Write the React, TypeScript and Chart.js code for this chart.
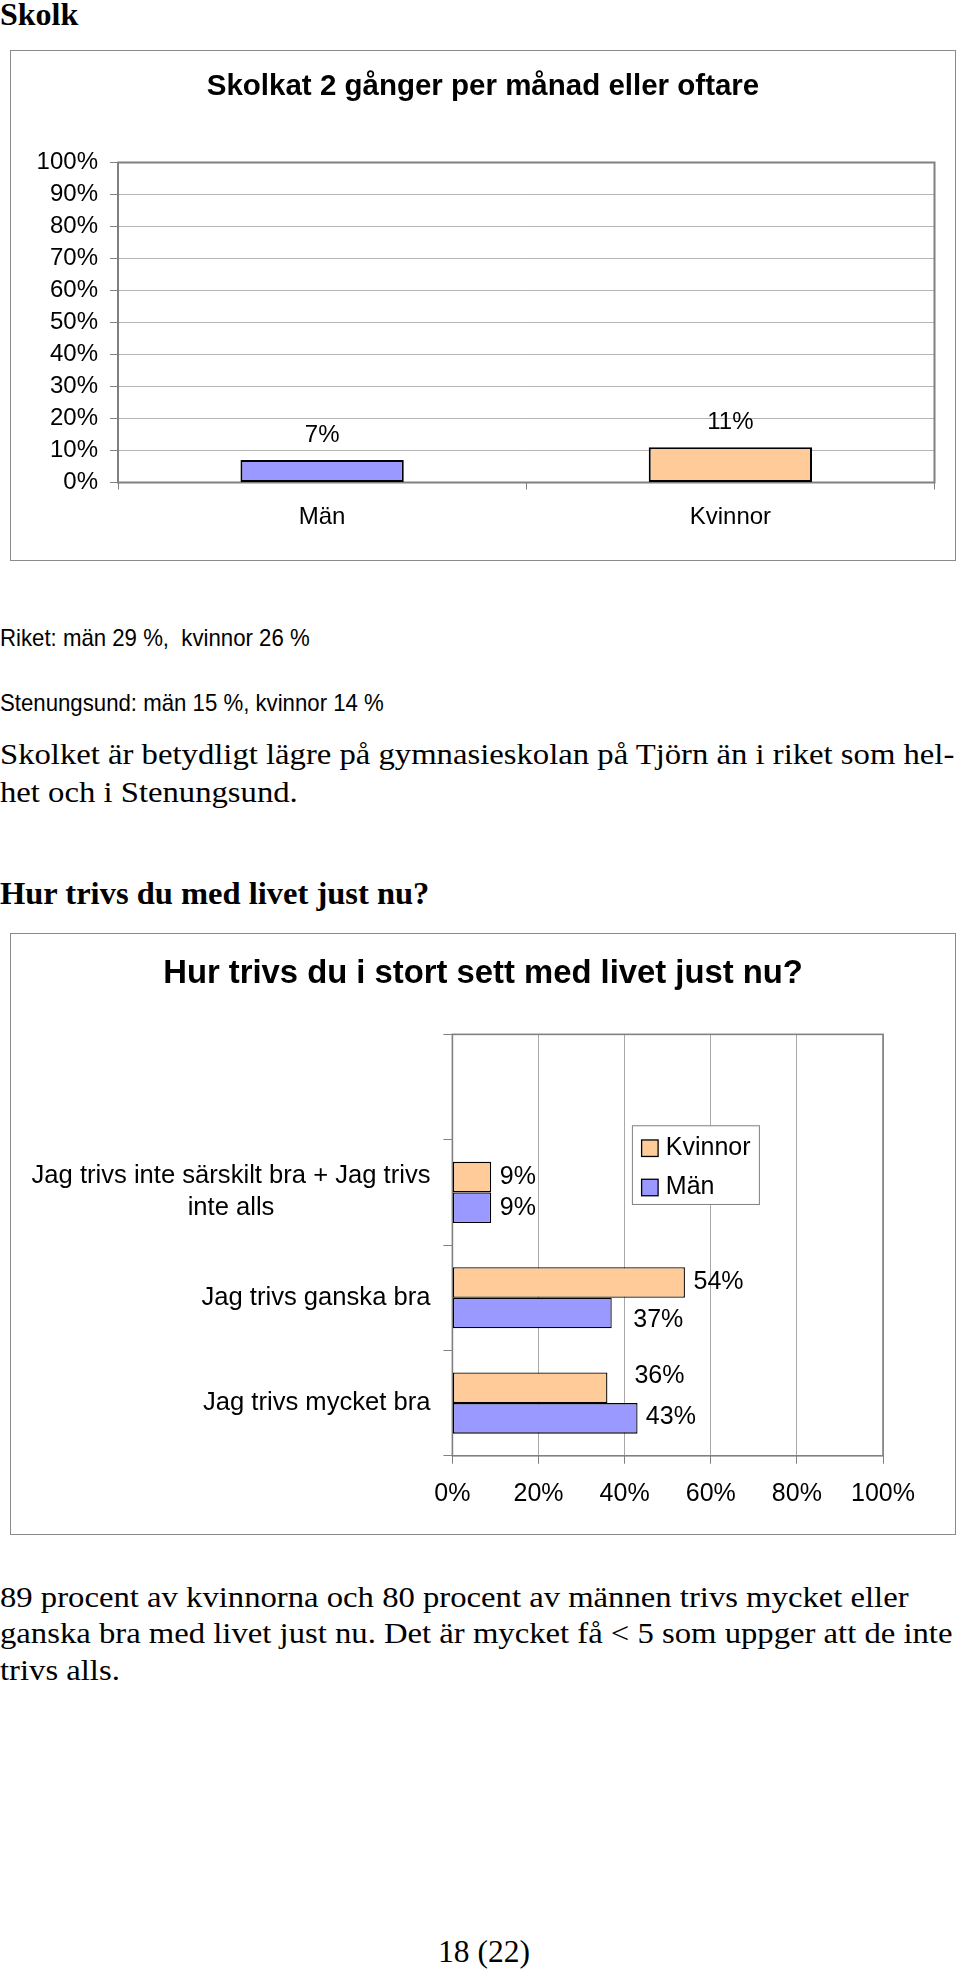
import React, { useEffect, useRef } from "react";
import { Chart, registerables } from "chart.js";

Chart.register(...registerables);

const SANS = "'Liberation Sans', Arial, Helvetica, sans-serif";
const SERIF = "'Liberation Serif', 'Times New Roman', serif";

// ---- Chart 1: Skolkat 2 gånger per månad eller oftare ----
const skolkCategories = ["Män", "Kvinnor"];
const skolkValues = [7, 11];
const skolkColors = ["#9999FF", "#FFCC99"];
const skolkTickStep = 10;

// ---- Chart 2: Hur trivs du i stort sett med livet just nu? ----
const trivsCategories: (string | string[])[] = [
  "",
  ["Jag trivs inte särskilt bra + Jag trivs", "inte alls"],
  "Jag trivs ganska bra",
  "Jag trivs mycket bra",
];
const trivsSeries = ["Kvinnor", "Män"];
const trivsKvinnor = [null, 9, 54, 36];
const trivsMan = [null, 9, 37, 43];
const trivsColors = ["#FFCC99", "#9999FF"];
const trivsTickStep = 20;

// label offsets (style only): [dx, dy] from bar end / bar centre
const trivsLabelOffsets = [
  [null, [8.7, 0], [8.6, 0], [27, -12.2]],
  [null, [8.7, 0], [21.5, 6.8], [8.3, -1]],
];

const pct = (v: any) => v + "%";

const plotFrame = (color: string, width: number) => ({
  id: "plotFrame",
  beforeDatasetsDraw(chart: any) {
    const { ctx, chartArea: a } = chart;
    ctx.save();
    ctx.strokeStyle = color;
    ctx.lineWidth = width;
    ctx.strokeRect(a.left, a.top, a.right - a.left, a.bottom - a.top);
    ctx.restore();
  },
});

const padAxis = (w: number) => ({
  type: "linear" as const,
  position: "right" as const,
  display: true,
  grid: { display: false },
  ticks: { display: false },
  border: { display: false },
  afterFit(s: any) {
    s.width = w;
  },
});

function TextLine(props: {
  text: string;
  baseline: number;
  size: number;
  family: string;
  weight?: string;
  left?: number;
  scaleX?: number;
  asc: number;
  width?: number;
  align?: "left" | "center";
}) {
  const { text, baseline, size, family, weight = "normal", left = 0, scaleX = 1, asc, width, align = "left" } = props;
  return (
    <div
      style={{
        position: "absolute",
        left,
        top: baseline - asc * size,
        width,
        textAlign: align,
        fontFamily: family,
        fontSize: size,
        fontWeight: weight as any,
        lineHeight: `${size}px`,
        whiteSpace: "pre",
        color: "#000",
        transform: `scaleX(${scaleX})`,
        transformOrigin: "left top",
      }}
    >
      {text}
    </div>
  );
}

const SERIF_ASC = 0.8375;
const SANS_ASC = 0.8465;

export default function App() {
  const c1 = useRef<HTMLCanvasElement>(null);
  const c2 = useRef<HTMLCanvasElement>(null);

  useEffect(() => {
    const valueLabels1 = {
      id: "valueLabels1",
      afterDatasetsDraw(chart: any) {
        const ctx = chart.ctx;
        ctx.save();
        ctx.font = `24px ${SANS}`;
        ctx.fillStyle = "#000";
        ctx.textAlign = "center";
        ctx.textBaseline = "alphabetic";
        chart.data.datasets.forEach((ds: any, di: number) => {
          chart.getDatasetMeta(di).data.forEach((el: any, i: number) => {
            const v = ds.data[i];
            if (v == null) return;
            ctx.fillText(pct(v), el.x, el.y - 18);
          });
        });
        ctx.restore();
      },
    };

    const ch1 = new Chart(c1.current as HTMLCanvasElement, {
      type: "bar",
      data: {
        labels: skolkCategories,
        datasets: [
          {
            data: skolkValues,
            backgroundColor: skolkColors,
            borderColor: "#000",
            borderWidth: 2,
            borderSkipped: false,
            barPercentage: 0.5,
            categoryPercentage: 0.8,
            xAxisID: "x",
            yAxisID: "y",
          },
        ],
      },
      options: {
        responsive: false,
        animation: false,
        devicePixelRatio: 1,
        layout: { padding: 0 },
        plugins: {
          legend: { display: false },
          tooltip: { enabled: false },
          title: {
            display: true,
            text: "Skolkat 2 gånger per månad eller oftare",
            color: "#000",
            font: { family: SANS, size: 29.5, weight: "bold", lineHeight: 1.2 },
            padding: { top: 17.8, bottom: 58.3 },
          },
        },
        scales: {
          x: {
            type: "category",
            offset: true,
            grid: {
              offset: true,
              drawOnChartArea: false,
              drawTicks: true,
              tickLength: 7,
              tickColor: "#808080",
              tickWidth: 1,
            },
            border: { display: false },
            ticks: {
              color: "#000",
              font: { family: SANS, size: 24 },
              padding: 13.5,
              maxRotation: 0,
              autoSkip: false,
            },
            afterFit(s: any) {
              s.height = 77.5;
            },
          },
          y: {
            type: "linear",
            min: 0,
            max: 100,
            ticks: {
              stepSize: skolkTickStep,
              callback: pct,
              color: "#000",
              font: { family: SANS, size: 24 },
              padding: 12,
            },
            grid: {
              color: "#b4b4b4",
              lineWidth: 1,
              drawTicks: true,
              tickLength: 8,
              tickColor: "#808080",
            },
            border: { display: false },
            afterFit(s: any) {
              s.width = 107;
            },
          },
          yPad: padAxis(20.5),
        },
      } as any,
      plugins: [plotFrame("#808080", 2), valueLabels1],
    });

    const valueLabels2 = {
      id: "valueLabels2",
      afterDatasetsDraw(chart: any) {
        const ctx = chart.ctx;
        ctx.save();
        ctx.font = `25px ${SANS}`;
        ctx.fillStyle = "#000";
        ctx.textAlign = "left";
        ctx.textBaseline = "middle";
        chart.data.datasets.forEach((ds: any, di: number) => {
          chart.getDatasetMeta(di).data.forEach((el: any, i: number) => {
            const v = ds.data[i];
            if (v == null) return;
            const off = (trivsLabelOffsets[di][i] as number[]) || [8, 0];
            ctx.fillText(pct(v), el.x + off[0], el.y + off[1]);
          });
        });
        ctx.restore();
      },
    };

    const catLabels = {
      id: "catLabels",
      afterDraw(chart: any) {
        const s = chart.scales.y;
        const ctx = chart.ctx;
        ctx.save();
        ctx.font = `25.6px ${SANS}`;
        ctx.fillStyle = "#000";
        ctx.textAlign = "center";
        ctx.textBaseline = "middle";
        const right = s.right - 9 - 12.9;
        (chart.data.labels as any[]).forEach((lab, i) => {
          const lines: string[] = Array.isArray(lab) ? lab : [lab];
          if (!lines.join("")) return;
          const w = Math.max(...lines.map((l) => ctx.measureText(l).width));
          const cx = right - w / 2;
          const yc = s.getPixelForTick(i);
          lines.forEach((l, j) => ctx.fillText(l, cx, yc + (j - (lines.length - 1) / 2) * 32));
        });
        ctx.restore();
      },
    };

    const innerLegend = {
      id: "innerLegend",
      afterDatasetsDraw(chart: any) {
        const a = chart.chartArea;
        const ctx = chart.ctx;
        const bx = a.left + 179.5;
        const by = a.top + 90.9;
        const bw = 128;
        const bh = 79.7;
        ctx.save();
        ctx.fillStyle = "#fff";
        ctx.fillRect(bx, by, bw, bh);
        ctx.strokeStyle = "#808080";
        ctx.lineWidth = 1;
        ctx.strokeRect(bx + 0.5, by + 0.5, bw - 1, bh - 1);
        chart.data.datasets.forEach((ds: any, i: number) => {
          const sy = by + 14.7 + i * 39.3;
          ctx.fillStyle = ds.backgroundColor;
          ctx.fillRect(bx + 9.7, sy, 16.5, 16.5);
          ctx.strokeStyle = "#000";
          ctx.lineWidth = 1.3;
          ctx.strokeRect(bx + 9.7, sy, 16.5, 16.5);
          ctx.fillStyle = "#000";
          ctx.font = `25px ${SANS}`;
          ctx.textAlign = "left";
          ctx.textBaseline = "alphabetic";
          ctx.fillText(ds.label, bx + 33.9, by + 29.7 + i * 39.3);
        });
        ctx.restore();
      },
    };

    const ch2 = new Chart(c2.current as HTMLCanvasElement, {
      type: "bar",
      data: {
        labels: trivsCategories as any,
        datasets: [
          {
            label: trivsSeries[0],
            data: trivsKvinnor as any,
            backgroundColor: trivsColors[0],
            borderColor: "#000",
            borderWidth: 1.3,
            borderSkipped: false,
            barPercentage: 1,
            categoryPercentage: 0.58,
            xAxisID: "x",
            yAxisID: "y",
          },
          {
            label: trivsSeries[1],
            data: trivsMan as any,
            backgroundColor: trivsColors[1],
            borderColor: "#000",
            borderWidth: 1.3,
            borderSkipped: false,
            barPercentage: 1,
            categoryPercentage: 0.58,
            xAxisID: "x",
            yAxisID: "y",
          },
        ],
      },
      options: {
        indexAxis: "y",
        responsive: false,
        animation: false,
        devicePixelRatio: 1,
        layout: { padding: 0 },
        plugins: {
          legend: { display: false },
          tooltip: { enabled: false },
          title: {
            display: true,
            text: "Hur trivs du i stort sett med livet just nu?",
            color: "#000",
            font: { family: SANS, size: 32.8, weight: "bold", lineHeight: 1.2 },
            padding: { top: 19.9, bottom: 41.1 },
          },
        },
        scales: {
          x: {
            type: "linear",
            position: "bottom",
            min: 0,
            max: 100,
            ticks: {
              stepSize: trivsTickStep,
              callback: pct,
              color: "#000",
              font: { family: SANS, size: 25 },
              padding: 15.6,
            },
            grid: {
              color: "#a8a8a8",
              lineWidth: 1,
              drawTicks: true,
              tickLength: 8,
              tickColor: "#808080",
            },
            border: { display: false },
            afterFit(s: any) {
              s.height = 78.2;
            },
          },
          y: {
            type: "category",
            position: "left",
            offset: true,
            grid: {
              offset: true,
              drawOnChartArea: false,
              drawTicks: true,
              tickLength: 9,
              tickColor: "#808080",
            },
            ticks: { display: false },
            border: { display: false },
            afterFit(s: any) {
              s.width = 441.4;
            },
          },
          yPad: padAxis(72),
        },
      } as any,
      plugins: [plotFrame("#808080", 1.6), valueLabels2, catLabels, innerLegend],
    });

    return () => {
      ch1.destroy();
      ch2.destroy();
    };
  }, []);

  const BODY = 29.5;
  const BODY_SX = 1.108;

  return (
    <div
      style={{
        position: "absolute",
        left: 0,
        top: 0,
        width: 960,
        height: 1972,
        background: "#fff",
        overflow: "hidden",
      }}
    >
      <TextLine text="Skolk" baseline={25} size={32} family={SERIF} weight="bold" asc={SERIF_ASC} />

      <div
        style={{
          position: "absolute",
          left: 10,
          top: 50,
          width: 944,
          height: 509,
          border: "1px solid #8a8a8a",
          background: "#fff",
        }}
      >
        <canvas ref={c1} width={944} height={509} style={{ display: "block" }} />
      </div>

      <TextLine text="Riket: män 29 %,  kvinnor 26 %" baseline={646.7} size={24} family={SANS} scaleX={0.925} asc={SANS_ASC} />
      <TextLine text="Stenungsund: män 15 %, kvinnor 14 %" baseline={711} size={24} family={SANS} scaleX={0.925} asc={SANS_ASC} />
      <TextLine
        text="Skolket är betydligt lägre på gymnasieskolan på Tjörn än i riket som hel-"
        baseline={764.3}
        size={BODY}
        family={SERIF}
        scaleX={BODY_SX}
        asc={SERIF_ASC}
      />
      <TextLine text="het och i Stenungsund." baseline={802.3} size={BODY} family={SERIF} scaleX={BODY_SX} asc={SERIF_ASC} />
      <TextLine
        text="Hur trivs du med livet just nu?"
        baseline={905}
        size={30.5}
        family={SERIF}
        weight="bold"
        scaleX={1.066}
        asc={SERIF_ASC}
      />

      <div
        style={{
          position: "absolute",
          left: 10,
          top: 933,
          width: 944,
          height: 600,
          border: "1px solid #8a8a8a",
          background: "#fff",
        }}
      >
        <canvas ref={c2} width={944} height={600} style={{ display: "block" }} />
      </div>

      <TextLine
        text="89 procent av kvinnorna och 80 procent av männen trivs mycket eller"
        baseline={1607.5}
        size={BODY}
        family={SERIF}
        scaleX={BODY_SX}
        asc={SERIF_ASC}
      />
      <TextLine
        text="ganska bra med livet just nu. Det är mycket få < 5 som uppger att de inte"
        baseline={1644}
        size={BODY}
        family={SERIF}
        scaleX={BODY_SX}
        asc={SERIF_ASC}
      />
      <TextLine text="trivs alls." baseline={1680.7} size={BODY} family={SERIF} scaleX={BODY_SX} asc={SERIF_ASC} />

      <TextLine text="18 (22)" baseline={1962} size={31.5} family={SERIF} asc={SERIF_ASC} left={4} width={960} align="center" />
    </div>
  );
}
